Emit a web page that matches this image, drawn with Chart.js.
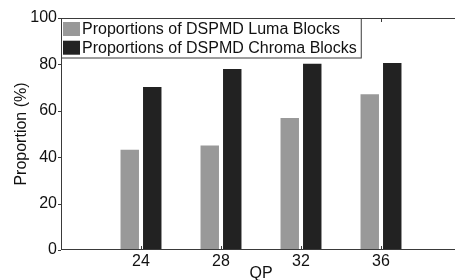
<!DOCTYPE html>
<html>
<head>
<meta charset="utf-8">
<script src="https://cdn.jsdelivr.net/npm/chart.js@4/dist/chart.umd.min.js"></script>
<style>
    html, body { margin: 0; padding: 0; background: #fff; overflow: hidden; }
    canvas { display: block; }
</style>
</head>
<body>
<canvas id="qpChart" width="466" height="280"></canvas>
<script>
// --- Datos ---
const qpValues = [24, 28, 32, 36];
const lumaShare = [43.2, 45, 56.9, 67.1];
const chromaShare = [70.3, 78, 80.3, 80.6];
const yTicks = [0, 20, 40, 60, 80, 100];
const seriesNames = ['Proportions of DSPMD Luma Blocks', 'Proportions of DSPMD Chroma Blocks'];

const FONT = "'Liberation Sans', Arial, Helvetica, sans-serif";
const INK = '#111';
const FRAME = '#3a3a3a';

// marco tipo MATLAB + marcas de los ejes
const framePlugin = {
    id: 'frame',
    afterDatasetsDraw(chart) {
        const { ctx, chartArea: a, scales: { x, y } } = chart;
        ctx.save();
        ctx.strokeStyle = FRAME;
        ctx.lineWidth = 1;
        ctx.strokeRect(Math.round(a.left) + 0.5, Math.round(a.top) + 0.5, Math.round(a.width), Math.round(a.height) - 1);
        ctx.beginPath();
        x.ticks.forEach(t => {
            const px = Math.round(x.getPixelForValue(t.value)) + 0.5;
            ctx.moveTo(px, a.bottom); ctx.lineTo(px, a.bottom - 4);
            ctx.moveTo(px, a.top); ctx.lineTo(px, a.top + 4);
        });
        y.ticks.forEach(t => {
            const py = Math.round(y.getPixelForValue(t.value)) + 0.5;
            ctx.moveTo(a.left, py); ctx.lineTo(a.left - 3, py);
        });
        ctx.stroke();
        ctx.restore();
    }
};

// leyenda dentro del área, arriba a la izquierda
const legendPlugin = {
    id: 'boxLegend',
    afterDraw(chart) {
        const { ctx, chartArea: a } = chart;
        ctx.save();
        ctx.font = '16px ' + FONT;
        const widths = chart.data.datasets.map(d => ctx.measureText(d.label).width);
        const boxW = 21 + Math.max(...widths) + 4;
        const boxH = 39.5;
        const left = Math.round(a.left) + 0.5;
        const top = Math.round(a.top) + 0.5;
        ctx.fillStyle = '#fff';
        ctx.fillRect(left, top, boxW, boxH);
        ctx.strokeStyle = FRAME;
        ctx.strokeRect(left, top, boxW, boxH);
        chart.data.datasets.forEach((d, i) => {
            const rowY = top + 3.5 + i * 18.7;
            ctx.fillStyle = d.backgroundColor;
            ctx.fillRect(left + 1.5, rowY, 17, 14);
            ctx.fillStyle = INK;
            ctx.textBaseline = 'alphabetic';
            ctx.fillText(d.label, left + 20.5, rowY + 12);
        });
        ctx.restore();
    }
};

const ctx = document.getElementById('qpChart').getContext('2d');
new Chart(ctx, {
    type: 'bar',
    data: {
        datasets: [{
            label: seriesNames[0],
            data: qpValues.map((q, i) => ({ x: q, y: lumaShare[i] })),
            backgroundColor: '#999999'
        }, {
            label: seriesNames[1],
            data: qpValues.map((q, i) => ({ x: q, y: chromaShare[i] })),
            backgroundColor: '#222222'
        }]
    },
    options: {
        responsive: false,
        animation: false,
        devicePixelRatio: 1,
        categoryPercentage: 0.5625,
        barPercentage: 0.82,
        layout: { padding: { top: 18, right: 5, left: 0, bottom: 0 } },
        scales: {
            x: {
                type: 'linear',
                offset: false,
                min: 20,
                max: 40,
                grid: { display: false, offset: false, drawTicks: false },
                border: { display: false },
                afterBuildTicks: s => { s.ticks = qpValues.map(v => ({ value: v })); },
                afterFit: s => { s.height = 30; },
                ticks: { padding: 2, color: INK, font: { family: FONT, size: 16 }, maxRotation: 0 },
                title: { display: true, text: 'QP', color: INK, font: { family: FONT, size: 16, lineHeight: 0.75 }, padding: 0 }
            },
            y: {
                min: 0,
                max: 100,
                grid: { display: false, drawTicks: false },
                border: { display: false },
                afterBuildTicks: s => { s.ticks = yTicks.map(v => ({ value: v })); },
                afterFit: s => { s.width = 61; },
                ticks: { padding: 4, color: INK, font: { family: FONT, size: 16 } },
                title: { display: true, text: 'Proportion (%)', color: INK, font: { family: FONT, size: 16 }, padding: { top: 12, bottom: 0 } }
            }
        },
        plugins: {
            legend: { display: false },
            tooltip: { enabled: false }
        }
    },
    plugins: [framePlugin, legendPlugin]
});
</script>
</body>
</html>
